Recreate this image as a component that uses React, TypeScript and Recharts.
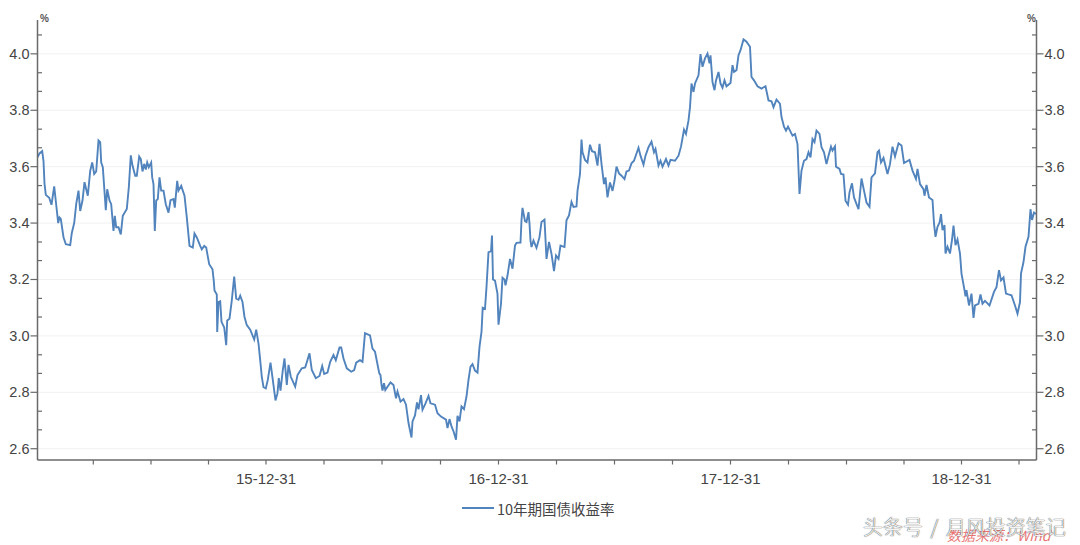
import React from "react";
import { LineChart, Line, XAxis, YAxis, CartesianGrid, Legend } from "recharts";

// Observation position along the time axis (0 = start of 2015, about one unit per trading day)
const obs2015 = [
  0, 2, 4.7, 6, 7, 8.3, 11.7, 14, 16.7, 18.7,
  20.7, 22, 23.3, 26, 28.3, 32.7, 34.3, 36.7, 38.7, 41,
  42.7, 45, 47, 48.7, 50.3, 52.7, 54.7, 56.7, 58.7, 61,
  62.7, 63.7, 65.3, 68.3, 69.7, 72, 73.7, 76, 77.3, 78.7,
  81, 83.3, 85.3, 89.3, 91.3, 93.3, 95, 97.7, 99.3, 101.7,
  103.3, 105, 106.7, 108.3, 109.7, 111.3, 113.7, 114.7, 116, 117.3,
  118.7, 120.3, 122, 123.7, 126, 128.3, 131, 133, 136, 137.3,
  139.7, 141, 143.7, 147, 149.3, 152, 155.3, 157, 159.3, 162.7,
  164.3, 166.7, 168.7, 171.7, 175, 176.3, 177, 179.3, 179.7, 181,
  182.7, 184, 186.7, 188.7, 189.7, 192, 194.3, 196.7, 198.7, 201,
  202.7, 205, 207, 209.3, 212.7, 216.7, 218.7, 221, 222.7, 224.3,
  226, 228.3,
];
const yield2015 = [
  3.633, 3.647, 3.655, 3.62, 3.54, 3.5, 3.49, 3.465, 3.53, 3.465,
  3.4, 3.42, 3.415, 3.35, 3.325, 3.322, 3.365, 3.4, 3.467, 3.515,
  3.443, 3.48, 3.545, 3.52, 3.497, 3.585, 3.615, 3.574, 3.583, 3.693,
  3.687, 3.615, 3.598, 3.446, 3.52, 3.48, 3.467, 3.372, 3.426, 3.385,
  3.385, 3.36, 3.426, 3.45, 3.526, 3.64, 3.604, 3.568, 3.568, 3.636,
  3.627, 3.583, 3.61, 3.59, 3.615, 3.598, 3.615, 3.562, 3.538, 3.372,
  3.48, 3.485, 3.562, 3.515, 3.515, 3.467, 3.437, 3.481, 3.485, 3.455,
  3.55, 3.515, 3.532, 3.497, 3.42, 3.319, 3.313, 3.363, 3.349, 3.319,
  3.307, 3.319, 3.313, 3.254, 3.236, 3.194, 3.161, 3.147, 3.014, 3.12,
  3.123, 3.05, 3.03, 2.967, 3.055, 3.061, 3.126, 3.21, 3.132, 3.128,
  3.143, 3.12, 3.067, 3.038, 3.022, 2.987, 3.022, 2.973, 2.914, 2.855,
  2.818, 2.814,
];

const obs2016 = [
  230.3, 233, 235.3, 238, 240, 241.3, 243, 245.3, 247, 249.3,
  251, 253.3, 257.7, 260, 264.3, 267.7, 272, 274.3, 278.3, 282,
  284.7, 286.7, 290, 292.7, 296, 298.3, 302, 303.7, 306, 309.3,
  313.7, 316.7, 318.7, 322.5, 325, 327.5, 332.5, 335, 337.5, 341.8,
  343, 344, 345, 346.5, 347.8, 350, 353, 356, 358.5, 360,
  363, 366, 368.5, 371, 374, 375, 377.5, 379.5, 381, 383.5,
  385, 388, 391, 393, 397.5, 400, 403.5, 408.5, 410, 412,
  414, 416, 418.5, 420, 422, 424, 426.5, 429, 431, 433,
  435, 437.5, 440, 442, 444, 445.2,
];
const yield2016 = [
  2.844, 2.905, 2.844, 2.771, 2.797, 2.85, 2.806, 2.879, 2.92, 2.826,
  2.897, 2.855, 2.82, 2.861, 2.885, 2.888, 2.938, 2.879, 2.85, 2.858,
  2.893, 2.865, 2.87, 2.908, 2.932, 2.914, 2.959, 2.959, 2.92, 2.885,
  2.873, 2.879, 2.905, 2.914, 2.908, 3.01, 3.002, 2.955, 2.944, 2.867,
  2.861, 2.826, 2.806, 2.832, 2.808, 2.82, 2.835, 2.826, 2.779, 2.803,
  2.767, 2.776, 2.756, 2.691, 2.64, 2.697, 2.718, 2.764, 2.74, 2.79,
  2.738, 2.761, 2.787, 2.761, 2.756, 2.726, 2.714, 2.703, 2.673, 2.705,
  2.679, 2.662, 2.632, 2.717, 2.697, 2.75, 2.74, 2.785, 2.844, 2.891,
  2.9, 2.877, 2.87, 2.961, 3.014, 3.1,
];

const obs2017 = [
  447.5, 449, 451, 453.5, 454.5, 455.5, 457.5, 460, 461, 463.5,
  465, 467, 468, 470, 472.5, 475, 477.5, 479, 483, 484,
  485, 487.5, 489, 491, 492, 493, 494, 496, 499, 502,
  504, 507, 509, 511.5, 514, 516.5, 518.5, 521, 523, 527,
  529, 531.5, 534, 536, 539, 540, 542.5, 544, 545, 547.5,
  550, 552.5, 554.5, 557.5, 560, 562, 564, 566.5, 568, 570,
  572.5, 575, 577, 579, 581.5, 584, 587, 589, 591.5, 594,
  596.5, 601, 603, 606, 608, 611, 614, 616.5, 618, 621,
  623, 625, 628.5, 631, 633, 637.5, 641, 643.5, 646.5, 648.5,
  651, 652.5, 654, 656, 657.5, 661, 663, 665, 667.5, 670,
  672, 673, 675, 677, 678.5, 681, 683, 685, 687, 689,
  693,
];
const yield2017 = [
  3.096, 3.173, 3.297, 3.3, 3.356, 3.2, 3.196, 3.149, 3.04, 3.114,
  3.206, 3.2, 3.179, 3.214, 3.273, 3.238, 3.32, 3.33, 3.331, 3.41,
  3.454, 3.407, 3.404, 3.439, 3.398, 3.338, 3.315, 3.338, 3.312, 3.35,
  3.404, 3.412, 3.273, 3.333, 3.291, 3.23, 3.285, 3.273, 3.32, 3.315,
  3.41, 3.427, 3.475, 3.457, 3.459, 3.514, 3.574, 3.696, 3.651, 3.624,
  3.615, 3.678, 3.655, 3.651, 3.604, 3.681, 3.61, 3.538, 3.562, 3.491,
  3.544, 3.514, 3.55, 3.6, 3.576, 3.568, 3.556, 3.583, 3.586, 3.612,
  3.621, 3.667, 3.639, 3.607, 3.639, 3.669, 3.689, 3.651, 3.663, 3.604,
  3.621, 3.6, 3.627, 3.604, 3.624, 3.621, 3.639, 3.671, 3.731, 3.716,
  3.764, 3.811, 3.895, 3.865, 3.895, 3.924, 3.999, 3.954, 3.984, 4.001,
  3.966, 3.995, 3.9, 3.871, 3.906, 3.936, 3.895, 3.88, 3.906, 3.885,
  3.897,
];

const obs2018 = [
  695, 696.5, 699, 701, 703, 706, 709, 712.5, 714, 716.5,
  720, 724, 728, 731, 734, 736, 739, 742.5, 744, 746.5,
  748.5, 750.5, 752.5, 755, 757.5, 760, 762, 764, 766.5, 769,
  771, 773, 775, 777, 779, 782, 784, 786.5, 789, 791,
  793.5, 795, 797.5, 798.5, 802, 803.5, 806, 808, 810.5, 812,
  814.5, 816.5, 821, 824, 826.5, 829, 832, 834, 837.5, 840,
  841.5, 843.5, 846, 850, 852.5, 855, 857.5, 861, 864, 866.5,
  872, 875, 878.5, 880, 882.5, 886, 887, 889, 891.5, 895,
  896.5, 898, 900, 902, 903.5, 905, 907, 908, 910, 912.5,
  914.5, 916, 918, 920, 922.5,
];
const yield2018 = [
  3.96, 3.936, 3.942, 3.995, 4.013, 4.051, 4.043, 4.025, 3.918, 3.906,
  3.885, 3.877, 3.885, 3.835, 3.832, 3.811, 3.838, 3.823, 3.776, 3.742,
  3.728, 3.742, 3.728, 3.71, 3.716, 3.68, 3.503, 3.586, 3.621, 3.627,
  3.651, 3.633, 3.698, 3.687, 3.728, 3.716, 3.669, 3.651, 3.609, 3.639,
  3.671, 3.657, 3.672, 3.6, 3.592, 3.574, 3.572, 3.479, 3.465, 3.509,
  3.541, 3.491, 3.449, 3.558, 3.515, 3.473, 3.458, 3.562, 3.576, 3.651,
  3.657, 3.615, 3.631, 3.574, 3.609, 3.671, 3.636, 3.683, 3.675, 3.613,
  3.624, 3.586, 3.556, 3.592, 3.538, 3.52, 3.497, 3.535, 3.491, 3.482,
  3.399, 3.351, 3.387, 3.401, 3.432, 3.375, 3.393, 3.292, 3.316, 3.292,
  3.34, 3.391, 3.322, 3.342, 3.292,
];

const obs2019 = [
  924, 927, 928, 929, 931.5, 934, 936, 937.5, 941, 943,
  945, 947.5, 952, 956.5, 959, 961.5, 963.5, 966, 968.5, 971,
  974, 977.5, 980, 982.5, 983.5, 986, 988, 991, 993, 994.5,
  996.5, 998.5,
];
const yield2019 = [
  3.221, 3.162, 3.14, 3.162, 3.108, 3.15, 3.064, 3.108, 3.114, 3.147,
  3.114, 3.124, 3.108, 3.156, 3.173, 3.233, 3.197, 3.207, 3.15, 3.147,
  3.144, 3.108, 3.079, 3.12, 3.221, 3.262, 3.316, 3.351, 3.449, 3.411,
  3.437, 3.432,
];

const xMajorTicks = [228.5, 461, 693, 924];
const xMajorLabels = ["15-12-31", "16-12-31", "17-12-31", "18-12-31"];
const xMinorTicks = [55.8, 113.5, 171, 286.5, 344.5, 403, 519, 577, 635, 751, 809, 866.5, 981.5];
const yMajorTicks = [2.6, 2.8, 3.0, 3.2, 3.4, 3.6, 3.8, 4.0];
const yMinorTicks = [
  2.667, 2.733, 2.867, 2.933, 3.067, 3.133, 3.267, 3.333, 3.467, 3.533,
  3.667, 3.733, 3.867, 3.933, 4.067,
];
const seriesName = "10年期国债收益率";
const unitLabel = "%";

const allObs = [...obs2015, ...obs2016, ...obs2017, ...obs2018, ...obs2019];
const allYields = [...yield2015, ...yield2016, ...yield2017, ...yield2018, ...yield2019];
const data = allObs.map((t, i) => ({ t, y: allYields[i] }));

const FONT = '"Liberation Sans", Arial, sans-serif';
const AXIS = "#6a6a6a";
const TEXT = "#444444";
const LINE = "#5183bd";

const YTick = ({ x, y, payload, side }: any) => {
  const major = yMajorTicks.some((v) => Math.abs(v - payload.value) < 0.001);
  const dir = side === "left" ? -1 : 1;
  return (
    <g>
      <line
        x1={x}
        x2={major ? x + dir * 7 : x - dir * 4.5}
        y1={y}
        y2={y}
        stroke={AXIS}
        strokeWidth={1.2}
      />
      {major && (
        <text
          x={side === "left" ? x - 8 : x + 8}
          y={y + 5}
          textAnchor={side === "left" ? "end" : "start"}
          fontFamily={FONT}
          fontSize={14.5}
          fill={TEXT}
        >
          {payload.value.toFixed(1)}
        </text>
      )}
    </g>
  );
};

const XTick = ({ x, y, payload }: any) => {
  const idx = xMajorTicks.indexOf(payload.value);
  return (
    <g>
      <line x1={x} x2={x} y1={y} y2={y + 4.5} stroke={AXIS} strokeWidth={1.2} />
      {idx >= 0 && (
        <text x={x} y={y + 24} textAnchor="middle" fontFamily={FONT} fontSize={15} fill={TEXT}>
          {xMajorLabels[idx]}
        </text>
      )}
    </g>
  );
};

const allXTicks = [...xMajorTicks, ...xMinorTicks].sort((a, b) => a - b);
const allYTicks = [...yMajorTicks, ...yMinorTicks].sort((a, b) => a - b);

const LegendContent = () => (
  <div
    style={{
      display: "flex",
      alignItems: "center",
      height: 20,
      fontFamily: '"Noto Sans CJK SC", sans-serif',
      fontSize: 14.5,
      color: TEXT,
      whiteSpace: "nowrap",
    }}
  >
    <span style={{ display: "inline-block", width: 32, height: 2, background: LINE, marginRight: 3 }} />
    {seriesName}
  </div>
);

export default function App() {
  return (
    <div style={{ position: "absolute", left: 0, top: 0, width: 1080, height: 545, background: "#fff", overflow: "hidden" }}>
      <LineChart
        width={1080}
        height={545}
        data={data}
        margin={{ top: 20, right: 0, bottom: 0, left: 0 }}
      >
        <CartesianGrid
          vertical={false}
          horizontalValues={yMajorTicks}
          stroke="#f1f1f1"
          yAxisId="left"
        />
        <XAxis
          dataKey="t"
          type="number"
          domain={[0, 999]}
          ticks={allXTicks}
          interval={0}
          tick={<XTick />}
          tickLine={false}
          tickSize={0}
          tickMargin={0}
          height={65}
          axisLine={{ stroke: AXIS, strokeWidth: 1.5 }}
          allowDataOverflow
        />
        <YAxis
          yAxisId="left"
          orientation="left"
          width={37.5}
          type="number"
          domain={[2.56, 4.12]}
          ticks={allYTicks}
          interval={0}
          tick={<YTick side="left" />}
          tickLine={false}
          tickSize={0}
          tickMargin={0}
          axisLine={{ stroke: AXIS, strokeWidth: 1.5 }}
          allowDataOverflow
        />
        <YAxis
          yAxisId="right"
          orientation="right"
          width={43.5}
          type="number"
          domain={[2.56, 4.12]}
          ticks={allYTicks}
          interval={0}
          tick={<YTick side="right" />}
          tickLine={false}
          tickSize={0}
          tickMargin={0}
          axisLine={{ stroke: AXIS, strokeWidth: 1.5 }}
          allowDataOverflow
        />
        <Legend
          content={<LegendContent />}
          height={0}
          wrapperStyle={{ left: 462, top: 498, bottom: "auto", width: 200, height: 20 }}
        />
        <Line
          yAxisId="left"
          dataKey="y"
          name={seriesName}
          type="linear"
          stroke={LINE}
          strokeWidth={1.9}
          dot={false}
          activeDot={false}
          isAnimationActive={false}
        />
      </LineChart>
      <div style={{ position: "absolute", left: 40, top: 13, fontFamily: FONT, fontSize: 10, fontWeight: 700, color: "#555" }}>
        {unitLabel}
      </div>
      <div style={{ position: "absolute", left: 1027, top: 13, fontFamily: FONT, fontSize: 10, fontWeight: 700, color: "#555" }}>
        {unitLabel}
      </div>
      <div
        style={{
          position: "absolute",
          left: 947,
          top: 527,
          fontFamily: '"Noto Sans CJK SC", sans-serif',
          fontSize: 14,
          fontStyle: "italic",
          color: "rgba(225,70,70,0.75)",
          whiteSpace: "nowrap",
          lineHeight: "16px",
        }}
      >
        数据来源：Wind
      </div>
      <div
        style={{
          position: "absolute",
          left: 863,
          top: 513,
          fontFamily: '"Noto Sans CJK SC", sans-serif',
          fontSize: 20,
          fontWeight: 300,
          color: "#f4f4f4",
          textShadow: "0 0 1px #555, 0 0 1px #555",
          whiteSpace: "nowrap",
          lineHeight: "28px",
          wordSpacing: 3,
        }}
      >
        头条号 / 月风投资笔记
      </div>
    </div>
  );
}
